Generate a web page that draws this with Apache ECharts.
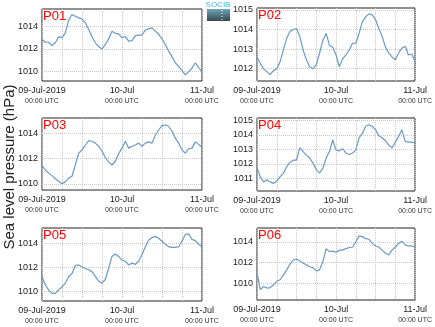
<!DOCTYPE html>
<html><head><meta charset="utf-8">
<script src="https://cdn.jsdelivr.net/npm/echarts@6/dist/echarts.min.js"></script>
<style>html,body{margin:0;padding:0;background:#fff}#c{width:435px;height:327px}</style>
</head><body><div id="c"></div>
<script>
const hours = [0,1,2,3,4,5,6,7,8,9,10,11,12,13,14,15,16,17,18,19,20,21,22,23,24,25,26,27,28,29,30,31,32,33,34,35,36,37,38,39,40,41,42,43,44,45,46,47,48];
const xTickLabels = {0:['09-Jul-2019','00:00 UTC'],24:['10-Jul','00:00 UTC'],48:['11-Jul','00:00 UTC']};
const panelNames = ['P01','P02','P03','P04','P05','P06'];
const p01 = [1012.85,1012.6,1012.6,1012.3,1012.55,1013.1,1013.0,1013.45,1014.6,1015.1,1014.95,1014.8,1014.7,1014.35,1013.75,1013.1,1012.55,1012.2,1012.0,1012.4,1012.9,1013.6,1013.4,1013.35,1013.0,1013.1,1012.7,1012.75,1013.2,1013.25,1013.25,1013.7,1013.8,1013.9,1013.6,1013.3,1012.9,1012.4,1011.8,1011.3,1010.75,1010.4,1010.05,1009.65,1009.95,1010.25,1010.75,1010.3,1009.95];
const p02 = [1012.6,1012.26,1012.0,1011.85,1011.7,1011.9,1012.0,1012.35,1012.95,1013.55,1013.9,1014.0,1014.05,1013.65,1012.95,1012.45,1012.1,1012.0,1012.2,1012.8,1013.45,1013.8,1013.2,1013.1,1012.7,1012.1,1012.5,1012.7,1012.95,1013.3,1013.3,1013.8,1014.4,1014.65,1014.8,1014.75,1014.5,1014.05,1013.65,1013.1,1012.8,1012.6,1012.45,1012.8,1013.05,1013.15,1012.7,1012.75,1012.35];
const p03 = [1011.45,1011.1,1010.85,1010.65,1010.4,1010.2,1010.0,1010.15,1010.45,1010.6,1011.5,1012.45,1012.7,1013.1,1013.45,1013.4,1013.25,1013.0,1012.6,1012.1,1011.75,1011.5,1011.8,1012.4,1012.85,1013.4,1012.85,1013.0,1013.1,1013.25,1013.0,1013.25,1013.35,1013.25,1013.9,1014.3,1014.65,1014.7,1014.6,1014.2,1013.65,1013.25,1012.7,1012.45,1012.8,1012.85,1013.35,1013.15,1012.9];
const p04 = [1011.75,1011.1,1010.75,1010.9,1010.75,1010.65,1010.8,1011.1,1011.35,1011.8,1012.1,1012.25,1012.25,1013.1,1012.85,1012.6,1012.4,1012.05,1011.6,1011.35,1011.7,1012.4,1012.85,1013.65,1012.95,1012.9,1013.05,1012.75,1012.65,1012.75,1012.95,1013.8,1014.1,1014.6,1014.7,1014.6,1014.35,1013.95,1013.8,1013.6,1013.3,1013.1,1013.5,1013.9,1014.35,1013.55,1013.5,1013.5,1013.45];
const p05 = [1011.25,1010.55,1010.15,1009.85,1009.85,1010.15,1010.4,1010.7,1011.25,1011.5,1012.15,1012.2,1012.05,1011.9,1011.8,1011.65,1011.25,1010.85,1010.7,1011.0,1011.95,1012.9,1013.1,1012.9,1012.6,1012.5,1012.2,1012.35,1012.25,1012.5,1013.05,1013.7,1014.25,1014.45,1014.55,1014.4,1014.15,1013.9,1013.7,1013.65,1013.65,1013.7,1014.15,1014.7,1014.75,1014.3,1014.2,1013.9,1013.7];
const p06 = [1011.0,1009.4,1009.7,1009.55,1009.6,1009.85,1010.2,1010.35,1010.8,1011.3,1011.85,1012.25,1012.35,1012.15,1011.95,1011.8,1011.6,1011.5,1011.2,1011.3,1012.1,1013.35,1013.05,1013.1,1013.0,1013.2,1013.2,1013.35,1013.45,1013.5,1014.0,1014.55,1014.5,1014.3,1014.25,1013.85,1013.6,1013.5,1013.2,1012.9,1012.75,1013.2,1013.5,1013.85,1014.05,1013.7,1013.6,1013.6,1013.5];
const seriesValues = [p01,p02,p03,p04,p05,p06];
const yRanges = [[1009.1,1015.6],[1011.37,1015.1],[1009.5,1015.26],[1010.12,1015.17],[1009.23,1015.24],[1008.4,1015.33]];
const yTicks = [[1010,1012,1014],[1012,1013,1014,1015],[1010,1012,1014],[1011,1012,1013,1014,1015],[1010,1012,1014],[1010,1012,1014]];

const grids = [
  {left:42,top:9,width:160,height:72},
  {left:257,top:8,width:160,height:73},
  {left:42,top:118,width:160,height:72},
  {left:257,top:118,width:160,height:73},
  {left:42,top:228,width:160,height:73},
  {left:257,top:228,width:160,height:72}
];
const FONT = 'Liberation Sans, Arial, sans-serif';
const option = {
  animation:false,
  backgroundColor:'#fff',
  grid: grids.map(g=>Object.assign({show:true,borderColor:'#222',borderWidth:1,backgroundColor:'transparent'},g)),
  title: panelNames.map((n,i)=>({text:n,left:grids[i].left+1,top:grids[i].top+1,padding:0,
    textStyle:{color:'#ff0000',fontSize:13,fontWeight:'normal',fontFamily:FONT}})),
  xAxis: grids.map((g,i)=>({type:'value',gridIndex:i,min:0,max:48,interval:6,
    axisLine:{show:false},axisTick:{show:false},
    splitLine:{show:true,lineStyle:{color:'#c8c8c8',type:'dotted',width:1}},
    axisLabel:{margin:4,fontFamily:FONT,color:'#222',
      formatter:v=>xTickLabels[v]?('{a|'+xTickLabels[v][0]+'}\n{b|'+xTickLabels[v][1]+'}'):'',
      rich:{a:{fontSize:9,fontFamily:FONT,color:'#222',lineHeight:11},b:{fontSize:7,fontFamily:FONT,color:'#333',lineHeight:11}}}
  })),
  yAxis: grids.map((g,i)=>({type:'value',gridIndex:i,min:yRanges[i][0],max:yRanges[i][1],
    axisLine:{show:false},
    axisTick:{show:false,customValues:yTicks[i]},
    splitLine:{show:true,lineStyle:{color:'#c8c8c8',type:'dotted',width:1}},
    axisLabel:{customValues:yTicks[i],margin:4,fontSize:9,color:'#222',fontFamily:FONT,formatter:v=>String(Math.round(v))}
  })),
  series: seriesValues.map((vals,i)=>({type:'line',xAxisIndex:i,yAxisIndex:i,showSymbol:false,
    data:hours.map((h,k)=>[h,vals[k]]),lineStyle:{color:'#6b9ac4',width:1.2},itemStyle:{color:'#6b9ac4'}})),
  graphic:[
    {type:'text',x:10,y:167,rotation:Math.PI/2,
      style:{text:'Sea level pressure (hPa)',fontSize:15,fontFamily:FONT,fill:'#222',align:'center',verticalAlign:'middle'}},
    {type:'group',x:207,y:1,children:[
      {type:'text',x:11,y:0,style:{text:'SOCIB',fontSize:8,fontFamily:FONT,fill:'#3fb8d0',align:'center',verticalAlign:'top'}},
      {type:'rect',shape:{x:0,y:8,width:23,height:12},style:{fill:{type:'linear',x:0,y:0,x2:0,y2:1,colorStops:[{offset:0,color:'#6aa7b5'},{offset:1,color:'#3a4650'}]}}},
      {type:'line',shape:{x1:15,y1:9,x2:15,y2:19},style:{stroke:'#fff',lineDash:[1,2],lineWidth:1}}
    ]}
  ]
};
echarts.init(document.getElementById('c'),null,{renderer:'canvas'}).setOption(option);
</script></body></html>
